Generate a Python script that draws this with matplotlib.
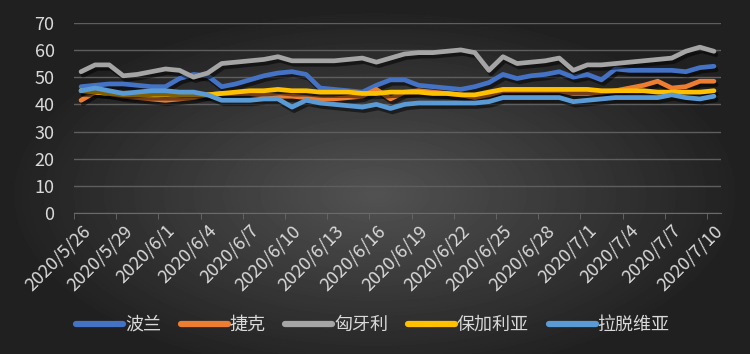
import matplotlib
matplotlib.use('Agg')
import matplotlib.pyplot as plt
import matplotlib.patheffects as pe
import numpy as np
import pandas as pd

plt.rcParams['font.family'] = ['Noto Sans CJK SC', 'DejaVu Sans']

# data
dates = pd.date_range('2020-05-26', '2020-07-10', freq='D')
date_labels = [f'{d.year}/{d.month}/{d.day}' for d in dates]

poland = [46.5, 47, 47.5, 47.5, 47, 46.5, 46.5, 49.5, 51, 50.5, 46.5, 47.5, 49, 50.5, 51.5, 52,
          51, 46, 45.5, 45, 44.5, 47, 49, 49, 47, 46.5, 46, 45.5, 46.5, 48, 51, 49.5, 50.5, 51,
          52, 50, 51, 49, 53, 52.5, 52.5, 52.5, 52.5, 52, 53.5, 54]
czech = [41.5, 44.5, 44, 43, 42.5, 42, 41.5, 42, 42.5, 43.5, 44, 44, 44, 43.5, 43, 43, 42.5, 42,
         42, 42.5, 43, 45.5, 42, 44.5, 45, 44.5, 44, 43.5, 42.5, 43.5, 45, 45, 45, 45, 45, 44,
         44, 44.5, 45, 46, 47, 48.5, 46, 46.5, 48.5, 48.5]
hungary = [52, 54.5, 54.5, 50.5, 51, 52, 53, 52.5, 50, 51.5, 55, 55.5, 56, 56.5, 57.5, 56, 56,
           56, 56, 56.5, 57, 55.5, 57, 58.5, 59, 59, 59.5, 60, 59, 52.5, 57.5, 55, 55.5, 56, 57,
           52.5, 54.5, 54.5, 55, 55.5, 56, 56.5, 57, 59.5, 61, 59.5]
bulgaria = [45, 44.5, 44, 43.5, 43.5, 43.5, 43.5, 43.5, 43.5, 43.5, 44, 44.5, 45, 45, 45.5, 45,
            45, 44.5, 44.5, 44.5, 44, 44, 44.5, 44.5, 44.5, 44, 44, 43.5, 43.5, 44.5, 45.5, 45.5,
            45.5, 45.5, 45.5, 45.5, 45.5, 45, 45, 45, 45, 44.5, 44.5, 44.5, 44.5, 45]
latvia = [45, 46, 45, 44, 44.5, 45, 45, 44.5, 44.5, 43.5, 41.5, 41.5, 41.5, 42, 42, 39, 41.5,
          40.5, 40, 39.5, 39, 40, 38.5, 40, 40.5, 40.5, 40.5, 40.5, 40.5, 41, 42.5, 42.5, 42.5,
          42.5, 42.5, 41, 41.5, 42, 42.5, 42.5, 42.5, 42.5, 43.5, 42.5, 42, 43]

series = [('波兰', poland, '#4472C4'),
          ('捷克', czech, '#ED7D31'),
          ('匈牙利', hungary, '#A5A5A5'),
          ('保加利亚', bulgaria, '#FFC000'),
          ('拉脱维亚', latvia, '#5B9BD5')]

fig = plt.figure(figsize=(7.5, 3.54), dpi=100)

# dark radial background
bg = fig.add_axes([0, 0, 1, 1], zorder=-10)
yy, xx = np.mgrid[0:1:354j, 0:1:750j]
r = np.sqrt(((xx - 0.5) / 0.75) ** 2 + ((yy - 0.55) / 0.8) ** 2)
shade = np.clip(82 - 75 * r, 32, 82) / 255.0
bg.imshow(shade, cmap='gray', vmin=0, vmax=1, aspect='auto', extent=[0, 1, 0, 1])
bg.axis('off')

ax = fig.add_axes([0.0987, 0.3975, 0.8626, 0.5384])
ax.patch.set_alpha(0)
x = np.arange(len(dates))
for name, vals, col in series:
    ax.plot(x, vals, color=col, lw=3.4, label=name, solid_capstyle='round',
            path_effects=[pe.SimpleLineShadow(offset=(1.5, -2.5), shadow_color='black', alpha=0.5),
                          pe.Normal()])

ax.set_xlim(-0.5, len(dates) - 0.5)
ax.set_ylim(0, 70)
ax.set_yticks(range(0, 71, 10))
ax.grid(axis='y', color='#5e5e5e', lw=1)
ax.set_axisbelow(True)
ax.set_xticks(x[::3])
ax.set_xticklabels(date_labels[::3], rotation=45, ha='right', va='top', rotation_mode='anchor')
ax.set_xticks(np.arange(-0.5, len(dates), 3), minor=True)
ax.tick_params(axis='x', which='major', length=0, pad=6, colors='#d9d9d9', labelsize=13)
ax.tick_params(axis='x', which='minor', length=4, color='#6a6a6a')
ax.tick_params(axis='y', length=0, pad=14, colors='#d9d9d9', labelsize=13)
for s in ['top', 'right', 'left']:
    ax.spines[s].set_visible(False)
ax.spines['bottom'].set_color('#6a6a6a')

leg = fig.legend(loc='center', bbox_to_anchor=(0.497, 0.082), ncol=5, frameon=False,
                 fontsize=13, handlelength=2.6, handletextpad=0.1, columnspacing=1.1)
for t in leg.get_texts():
    t.set_color('#d9d9d9')
for h in leg.legend_handles:
    h.set_linewidth(4.5)
    h.set_path_effects([])

fig.savefig('out.png', dpi=100)
